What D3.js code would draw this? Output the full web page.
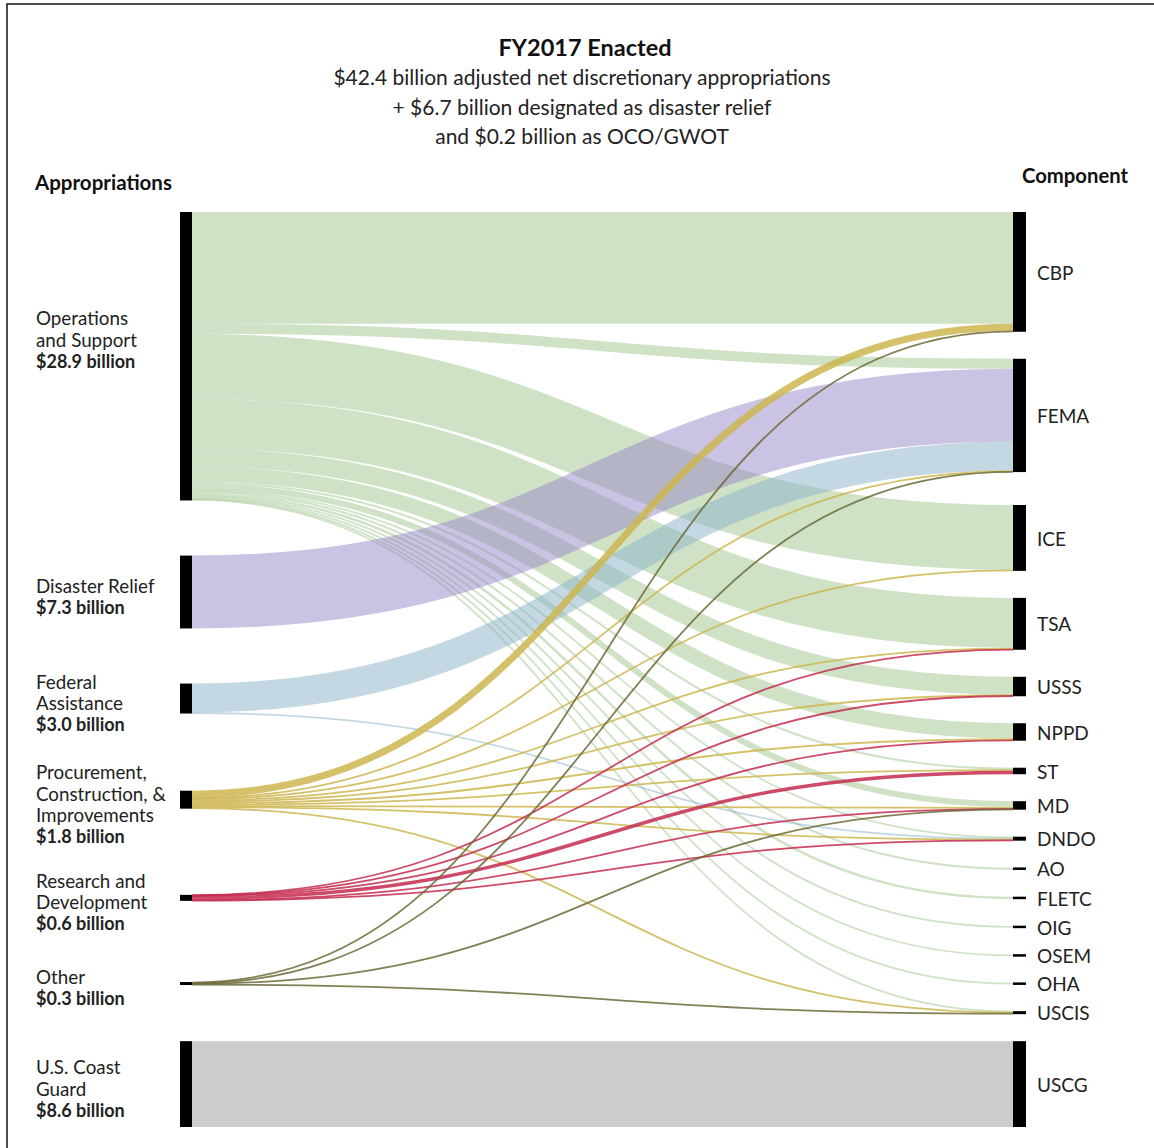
<!DOCTYPE html>
<html>
<head>
<meta charset="utf-8">
<script src="https://cdn.jsdelivr.net/npm/d3@7"></script>
<style>
  body { margin: 0; background: #fff; }
  svg { display: block; font-family: Lato, "Open Sans", sans-serif; }
</style>
</head>
<body>
<div id="chart"></div>
<script>
// appropriation types (left column), in billions
const sources = ["Operations and Support", "Disaster Relief", "Federal Assistance",
  "Procurement, Construction, & Improvements", "Research and Development", "Other", "U.S. Coast Guard"];
const sourceLines = [["Operations", "and Support"], ["Disaster Relief"], ["Federal", "Assistance"],
  ["Procurement,", "Construction, &", "Improvements"], ["Research and", "Development"], ["Other"], ["U.S. Coast", "Guard"]];
const sourceTotals = [28.9, 7.3, 3.0, 1.8, 0.6, 0.3, 8.6];

// components (right column)
const components = ["CBP", "FEMA", "ICE", "TSA", "USSS", "NPPD", "ST", "MD", "DNDO",
  "AO", "FLETC", "OIG", "OSEM", "OHA", "USCIS", "USCG"];

// flows from each appropriation to each component, same order as components
const opsSupport     = [11.2, 1.0, 6.5, 5.0, 1.8, 1.5, 0.2, 0.6, 0.15, 0.2, 0.25, 0.15, 0.15, 0.1, 0.1, 0];
const disasterRelief = [0, 7.3, 0, 0, 0, 0, 0, 0, 0, 0, 0, 0, 0, 0, 0, 0];
const federalAssist  = [0, 2.9, 0, 0, 0, 0, 0, 0, 0.1, 0, 0, 0, 0, 0, 0, 0];
const procurement    = [0.7, 0.1, 0.1, 0.15, 0.1, 0.2, 0.1, 0.15, 0.1, 0, 0, 0, 0, 0, 0.1, 0];
const research       = [0, 0, 0, 0.05, 0.05, 0.05, 0.35, 0.05, 0.05, 0, 0, 0, 0, 0, 0, 0];
const other          = [0.1, 0.05, 0, 0, 0, 0, 0, 0.05, 0, 0, 0, 0, 0, 0, 0.1, 0];
const coastGuard     = [0, 0, 0, 0, 0, 0, 0, 0, 0, 0, 0, 0, 0, 0, 0, 8.6];
const flows = [opsSupport, disasterRelief, federalAssist, procurement, research, other, coastGuard];

const titleLines = ["$42.4 billion adjusted net discretionary appropriations",
  "+ $6.7 billion designated as disaster relief", "and $0.2 billion as OCO/GWOT"];

// styles
const linkColor = ["#9fc58d", "#9787c7", "#8ab1c9", "#ccb650", "#c42c4f", "#6c6a37", "#999999"];
const linkOpacity = [0.5, 0.5, 0.5, 0.85, 0.85, 0.85, 0.5];
const leftGaps = [55, 55, 77, 86, 81, 56]; // relative spacing in left column
const rightGaps = [1, 1.22, 1, 1, 1, 1, 1, 1, 1, 1, 1, 1, 1, 1, 1]; // relative spacing in right column

const width = 1154, height = 1148;
const plotTop = 212, plotH = 915, pad = 27;
const xL = 180, xR = 1013, nodeW = 12;

const svg = d3.select("#chart").append("svg")
  .attr("width", width).attr("height", height);

svg.append("rect")
  .attr("x", 7).attr("y", 4).attr("width", width).attr("height", height)
  .attr("fill", "none").attr("stroke", "#222").attr("stroke-width", 1.6);

const total = d3.sum(sourceTotals);
const k = d3.scaleLinear().domain([0, total]).range([0, plotH - pad * d3.sum(rightGaps)]);

// right nodes
const compTotals = components.map((c, j) => d3.sum(flows, f => f[j]));
let yy = plotTop;
const rightNodes = components.map((c, j) => {
  const n = {name: c, y0: yy, y1: yy + k(compTotals[j])};
  yy = n.y1 + pad * (rightGaps[j] || 0);
  n.off = n.y0;
  return n;
});

// left nodes
const leftH = d3.sum(sourceTotals, v => k(v));
const gapScale = (plotH - leftH) / d3.sum(leftGaps);
yy = plotTop;
const leftNodes = sources.map((s, i) => {
  const n = {name: s, y0: yy, y1: yy + k(sourceTotals[i])};
  yy = n.y1 + (leftGaps[i] || 0) * gapScale;
  n.off = n.y0;
  return n;
});

// links
const links = [];
flows.forEach((f, i) => {
  f.forEach((v, j) => {
    if (!v) return;
    const w = k(v);
    const s = leftNodes[i], t = rightNodes[j];
    links.push({i, j, w, ys: s.off + w / 2, yt: t.off + w / 2});
    s.off += w;
    t.off += w;
  });
});

const link = d3.linkHorizontal().x(d => d[0]).y(d => d[1]);

svg.append("g").attr("fill", "none")
  .selectAll("path")
  .data(links)
  .join("path")
    .attr("d", d => link({source: [xL + nodeW, d.ys], target: [xR, d.yt]}))
    .attr("stroke", d => linkColor[d.i])
    .attr("stroke-opacity", d => linkOpacity[d.i])
    .attr("stroke-width", d => Math.max(d.w, 1.8));

// node bars
svg.append("g").selectAll("rect")
  .data(leftNodes)
  .join("rect")
    .attr("x", xL).attr("width", nodeW)
    .attr("y", d => (d.y0 + d.y1) / 2 - Math.max(d.y1 - d.y0, 2.5) / 2)
    .attr("height", d => Math.max(d.y1 - d.y0, 2.5))
    .attr("fill", "#000");

svg.append("g").selectAll("rect")
  .data(rightNodes)
  .join("rect")
    .attr("x", xR).attr("width", nodeW + 1)
    .attr("y", d => (d.y0 + d.y1) / 2 - Math.max(d.y1 - d.y0, 2.5) / 2)
    .attr("height", d => Math.max(d.y1 - d.y0, 2.5))
    .attr("fill", "#000");

// right labels
svg.append("g").selectAll("text")
  .data(rightNodes)
  .join("text")
    .attr("x", xR + 24)
    .attr("y", d => (d.y0 + d.y1) / 2 + 1)
    .attr("dy", "0.35em")
    .attr("font-size", 19)
    .attr("fill", "#222")
    .text(d => d.name);

// left labels
const lh = 21.3;
leftNodes.forEach((n, i) => {
  const lines = sourceLines[i].concat(["$" + sourceTotals[i].toFixed(1) + " billion"]);
  const mid = Math.min((n.y0 + n.y1) / 2 + 5, n.y0 + 128);
  const ly = mid - (lines.length - 1) * lh / 2;
  const t = svg.append("text").attr("x", 36).attr("fill", "#222");
  lines.forEach((l, m) => {
    const last = m === lines.length - 1;
    t.append("tspan")
      .attr("x", 36)
      .attr("y", ly + m * lh)
      .attr("dy", "0.35em")
      .attr("font-weight", last ? "bold" : null)
      .attr("font-size", last ? 18 : 18.8)
      .text(l);
  });
});

// headings
svg.append("text")
  .attr("x", 585).attr("y", 48).attr("dy", "0.35em")
  .attr("text-anchor", "middle").attr("font-size", 23.5).attr("font-weight", "bold")
  .attr("fill", "#111")
  .text("FY2017 Enacted");

svg.append("g").selectAll("text")
  .data(titleLines)
  .join("text")
    .attr("x", 582)
    .attr("y", (d, i) => 78 + i * 29.5)
    .attr("dy", "0.35em")
    .attr("text-anchor", "middle")
    .attr("font-size", 21)
    .attr("fill", "#222")
    .text(d => d);

svg.append("text")
  .attr("x", 35).attr("y", 183).attr("dy", "0.35em")
  .attr("font-size", 20.5).attr("font-weight", "bold").attr("fill", "#111")
  .text("Appropriations");

svg.append("text")
  .attr("x", 1022).attr("y", 176).attr("dy", "0.35em")
  .attr("font-size", 20.3).attr("font-weight", "bold").attr("fill", "#111")
  .text("Component");
</script>
</body>
</html>
